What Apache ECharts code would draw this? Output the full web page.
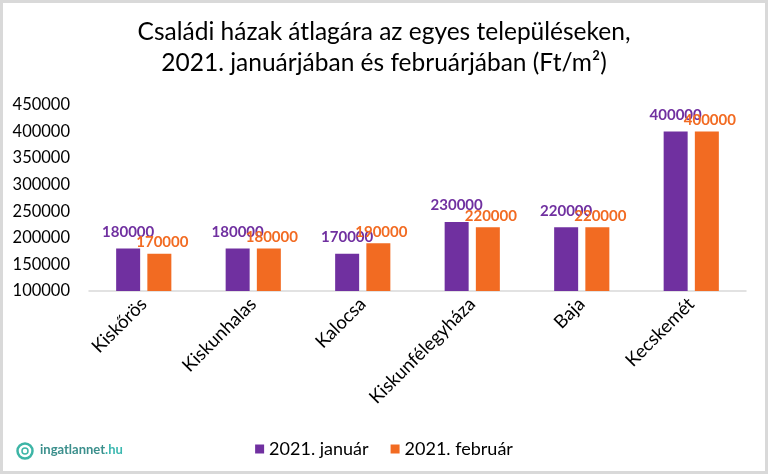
<!DOCTYPE html>
<html>
<head>
<meta charset="utf-8">
<script src="https://cdn.jsdelivr.net/npm/echarts@6/dist/echarts.min.js"></script>
<style>
  html, body { margin: 0; padding: 0; background: #fff; }
  #chart { width: 768px; height: 474px; }
</style>
</head>
<body>
<div id="chart"></div>
<script>
    'use strict';

    // telepulesek
    var categories = ['Kiskőrös', 'Kiskunhalas', 'Kalocsa', 'Kiskunfélegyháza', 'Baja', 'Kecskemét'];
    var januar = [180000, 180000, 170000, 230000, 220000, 400000];
    var februar = [170000, 180000, 190000, 220000, 220000, 400000];
    var seriesNames = ['2021. január', '2021. február'];

    var FONT = 'Lato, "Open Sans", sans-serif';
    var PURPLE = '#7030a0';
    var ORANGE = '#f26b22';

    var chart = echarts.init(document.getElementById('chart'));

    function barSeries(name, data, color, offset) {
        return {
            name: name,
            type: 'bar',
            data: data,
            barWidth: 24,
            barGap: '30%',
            itemStyle: { color: color },
            label: {
                show: true,
                position: 'top',
                distance: 4,
                offset: offset,
                color: color,
                fontFamily: FONT,
                fontWeight: 'bold',
                fontSize: 15
            }
        };
    }

    var option = {
        backgroundColor: '#fff',
        animation: false,
        title: {
            text: 'Családi házak átlagára az egyes településeken,\n2021. januárjában és februárjában (Ft/m²)',
            left: 'center',
            top: 12,
            textStyle: {
                fontFamily: FONT,
                fontWeight: 'normal',
                fontSize: 24.5,
                lineHeight: 31,
                color: '#000'
            }
        },
        legend: {
            top: 435,
            left: 'center',
            itemWidth: 9,
            itemHeight: 9,
            itemGap: 22,
            icon: 'rect',
            textStyle: { fontFamily: FONT, fontSize: 18, color: '#000' },
            data: seriesNames
        },
        grid: { left: 89, right: 22, top: 105, bottom: 183 },
        xAxis: {
            type: 'category',
            data: categories,
            axisLine: { lineStyle: { color: '#d9d9d9', width: 1.5 } },
            axisTick: { show: false },
            axisLabel: {
                rotate: 45,
                interval: 0,
                margin: 10,
                fontFamily: FONT,
                fontSize: 18.5,
                color: '#000'
            }
        },
        yAxis: {
            type: 'value',
            min: 100000,
            max: 450000,
            interval: 50000,
            splitLine: { show: false },
            axisLine: { show: false },
            axisTick: { show: false },
            axisLabel: {
                margin: 19,
                fontFamily: FONT,
                fontSize: 16.5,
                color: '#000',
                formatter: function (v) { return String(v); }
            }
        },
        series: [
            barSeries(seriesNames[0], januar, PURPLE, [0, -5]),
            barSeries(seriesNames[1], februar, ORANGE, [3, 0])
        ],
        graphic: [
            {
                type: 'rect',
                shape: { x: 1.5, y: 1.5, width: 765, height: 471 },
                style: { fill: 'none', stroke: '#d9d9d9', lineWidth: 3 },
                silent: true
            },
            {
                type: 'group',
                left: 15,
                top: 441,
                children: [
                    {
                        type: 'circle',
                        shape: { cx: 9, cy: 9, r: 7.5 },
                        style: { fill: 'none', stroke: '#3db5a6', lineWidth: 2.5 }
                    },
                    {
                        type: 'circle',
                        shape: { cx: 9, cy: 9, r: 3 },
                        style: { fill: 'none', stroke: '#3db5a6', lineWidth: 1.5 }
                    },
                    {
                        type: 'text',
                        x: 24,
                        y: 1,
                        style: {
                            text: '{a|ingatlannet}{b|.hu}',
                            rich: {
                                a: { fill: '#3b8f8c', font: 'bold 13px ' + FONT },
                                b: { fill: '#3cb8b0', font: 'bold 13px ' + FONT }
                            }
                        }
                    }
                ]
            }
        ]
    };

    chart.setOption(option);
</script>
</body>
</html>
